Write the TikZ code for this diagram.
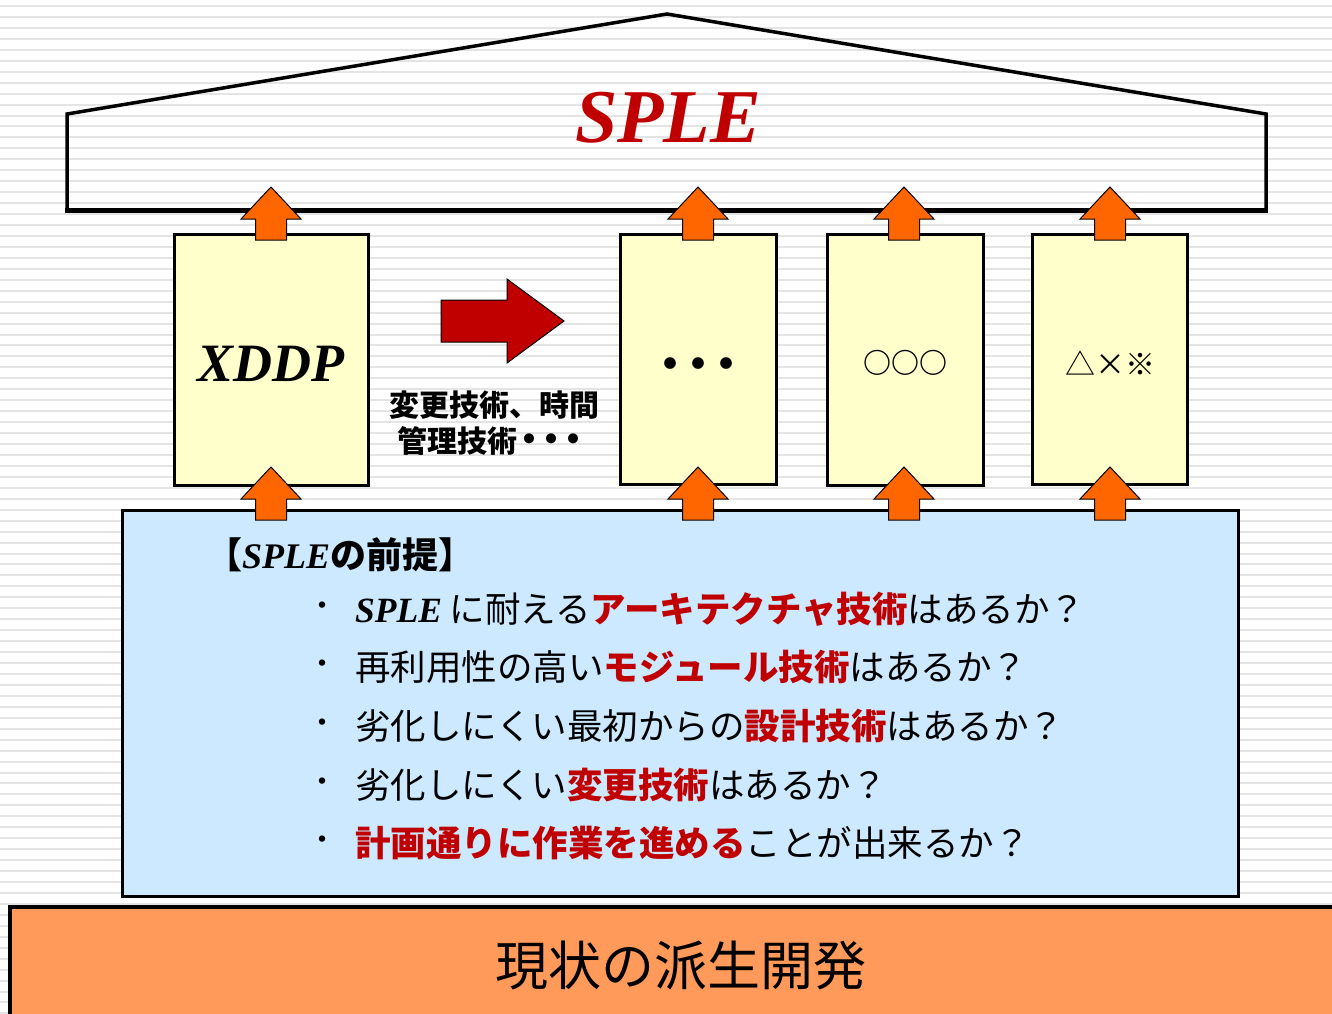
\documentclass[tikz,border=0pt]{standalone}
\usepackage{fontspec}
\newfontfamily\jp{Noto Sans CJK JP}
\newfontfamily\tnr{Liberation Serif}
\definecolor{myred}{HTML}{C00000}
\definecolor{boxyellow}{HTML}{FFFFCC}
\definecolor{boxblue}{HTML}{CCE9FF}
\definecolor{arrorange}{HTML}{FF6600}
\definecolor{baseorange}{HTML}{FF9A5A}
\definecolor{stripegray}{HTML}{E4E4E4}
\tikzset{
  stripe/.style={stripegray, line width=2pt},
  ybox/.style={draw=black, fill=boxyellow, line width=3pt, inner sep=0pt},
  bluebox/.style={draw=black, fill=boxblue, line width=3pt, inner sep=0pt},
  basebox/.style={draw=black, fill=baseorange, line width=3.5pt, inner sep=0pt},
  txt/.style={inner sep=0pt, font=\jp},
  bul/.style={inner sep=0pt, font=\jp\fontsize{30}{36}\selectfont},
  item/.style={inner sep=0pt, anchor=west, font=\jp\fontsize{35.5}{40}\selectfont},
  pics/uparr/.style={code={
    \draw[fill=arrorange, draw=black, line width=1pt, line join=miter]
      (0,0) -- (30,32) -- (15.5,32) -- (15.5,53) -- (-15.5,53) -- (-15.5,32) -- (-30,32) -- cycle;
  }}
}
\begin{document}
\begin{tikzpicture}[x=1pt,y=-1pt]
\useasboundingbox (0,0) rectangle (1332,1013);
\fill[white] (0,0) rectangle (1332,1013);
\foreach \i in {0,...,92} \draw[stripe] (0,{6+10.95*\i}) -- (1332,{6+10.95*\i});

% house roof
\draw[line width=3.5pt, line join=miter] (67,210) -- (67,114) -- (667,14) -- (1266,114) -- (1266,210);
\draw[line width=5pt] (65,210) -- (1268,210);
\node[inner sep=0pt, text=myred, font=\tnr\bfseries\itshape\fontsize{76}{80}\selectfont] (sple) at (668,118) {SPLE};

% pillars
\node[ybox, minimum width=194, minimum height=251] (p1) at (271,359.5) {};
\node[ybox, minimum width=156, minimum height=250] (p2) at (698,359) {};
\node[ybox, minimum width=156, minimum height=251] (p3) at (905,359.5) {};
\node[ybox, minimum width=155, minimum height=250] (p4) at (1109.5,359) {};

\node[inner sep=0pt, font=\tnr\bfseries\itshape\fontsize{54}{58}\selectfont] (p1t) at (271,364) {XDDP};
\node[txt, font=\jp\bfseries\fontsize{42}{46}\selectfont] (p2t) at (698,369) {・\kern-14pt・\kern-14pt・};
\node[txt, font=\jp\bfseries\fontsize{28}{32}\selectfont] (p3t) at (905,363) {○○○};
\node[txt, font=\jp\fontsize{30}{34}\selectfont] (p4t) at (1110,363) {△×※};

% red arrow
\draw[fill=myred, draw=black, line width=1pt, line join=miter]
  (441,300) -- (507,300) -- (507,279) -- (564,321) -- (507,363) -- (507,342) -- (441,342) -- cycle;
\node[txt, font=\jp\bfseries\fontsize{30}{36}\selectfont, align=center] (tech) at (494,423)
  {変更技術、時間\\管理技術{\fontsize{36}{36}\selectfont\kern-6pt・\kern-14pt・\kern-14pt・}};

% top arrows
\pic at (271,187) {uparr};
\pic at (698,187) {uparr};
\pic at (904,187) {uparr};
\pic at (1110,187) {uparr};

% blue premise box
\node[bluebox, minimum width=1116, minimum height=386] (prem) at (680,703) {};

% bottom arrows
\pic at (271,467) {uparr};
\pic at (698,467) {uparr};
\pic at (904,467) {uparr};
\pic at (1110,467) {uparr};

\node[txt, anchor=west, font=\jp\bfseries\fontsize{36}{40}\selectfont] (head) at (206,555) {【{\tnr\itshape SPLE}の前提】};

\node[bul] (b1) at (322,609) {・};
\node[bul] (b2) at (322,667) {・};
\node[bul] (b3) at (322,726) {・};
\node[bul] (b4) at (322,785) {・};
\node[bul] (b5) at (322,843) {・};

\node[item] (l1) at (355,609)
  {{\tnr\bfseries\itshape SPLE} に耐える\textcolor{myred}{\bfseries アーキテクチャ技術}はあるか？};
\node[item] (l2) at (355,667)
  {再利用性の高い\textcolor{myred}{\bfseries モジュール技術}はあるか？};
\node[item] (l3) at (355,726)
  {劣化しにくい最初からの\textcolor{myred}{\bfseries 設計技術}はあるか？};
\node[item] (l4) at (355,785)
  {劣化しにくい\textcolor{myred}{\bfseries 変更技術}はあるか？};
\node[item] (l5) at (355,843)
  {\textcolor{myred}{\bfseries 計画通りに作業を進める}ことが出来るか？};

% base bar
\node[basebox, minimum width=1340, minimum height=120] (base) at (680,967) {};
\node[txt, font=\jp\fontsize{53}{58}\selectfont] (baset) at (681,965) {現状の派生開発};
\end{tikzpicture}
\end{document}
